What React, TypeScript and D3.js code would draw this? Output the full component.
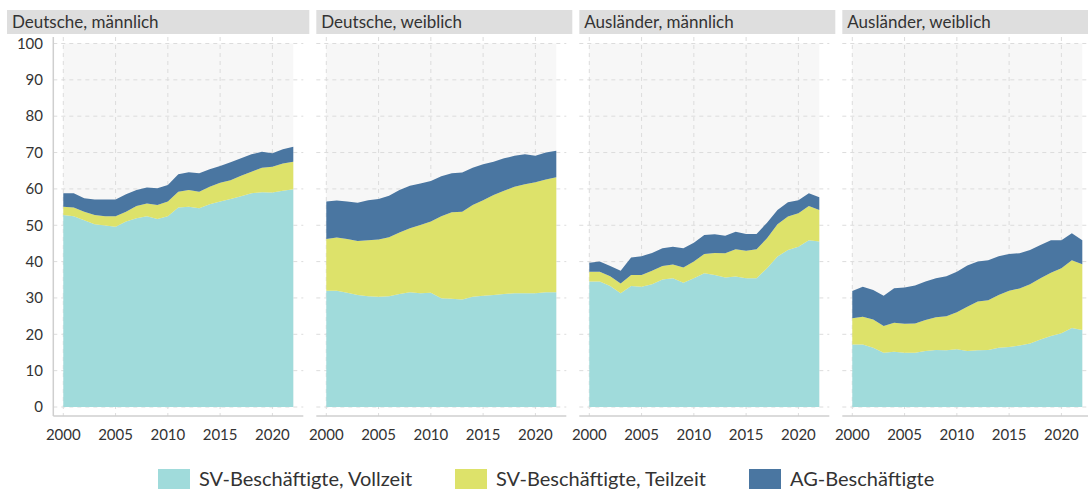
import React from "react";
import * as d3 from "d3";

const years = [2000, 2001, 2002, 2003, 2004, 2005, 2006, 2007, 2008, 2009, 2010, 2011, 2012, 2013, 2014, 2015, 2016, 2017, 2018, 2019, 2020, 2021, 2022];
const panelTitles = ["Deutsche, männlich", "Deutsche, weiblich", "Ausländer, männlich", "Ausländer, weiblich"];
const seriesNames = ["SV-Beschäftigte, Vollzeit", "SV-Beschäftigte, Teilzeit", "AG-Beschäftigte"];
const seriesColors = ["#a0dbdb", "#dde26a", "#4a76a1"];
const xTicks = [2000, 2005, 2010, 2015, 2020];
const yTicks = [0, 10, 20, 30, 40, 50, 60, 70, 80, 90, 100];

// Deutsche, männlich
const dmVollzeit = [52.8, 52.5, 51.4, 50.3, 49.9, 49.6, 51.0, 51.9, 52.5, 51.7, 52.5, 54.9, 55.1, 54.7, 55.8, 56.5, 57.2, 58.0, 58.8, 59.1, 59.0, 59.5, 59.9];
const dmTeilzeit = [2.3, 2.4, 2.3, 2.5, 2.6, 2.9, 2.7, 3.4, 3.5, 3.9, 4.0, 4.3, 4.6, 4.5, 4.8, 5.2, 5.2, 5.6, 5.9, 6.7, 7.1, 7.5, 7.6];
const dmAG = [3.7, 3.9, 3.7, 4.3, 4.6, 4.6, 4.8, 4.4, 4.4, 4.6, 4.6, 4.8, 4.9, 5.1, 4.8, 4.6, 4.9, 4.8, 4.8, 4.4, 3.7, 3.9, 4.1];

// Deutsche, weiblich
const dwVollzeit = [32.0, 32.0, 31.4, 30.8, 30.5, 30.3, 30.5, 31.1, 31.6, 31.3, 31.4, 29.9, 29.8, 29.6, 30.3, 30.6, 30.8, 31.1, 31.3, 31.3, 31.3, 31.6, 31.6];
const dwTeilzeit = [14.2, 14.6, 14.8, 14.9, 15.4, 15.8, 16.2, 16.9, 17.6, 18.8, 19.6, 22.6, 23.8, 24.1, 25.3, 26.3, 27.5, 28.4, 29.3, 30.0, 30.5, 31.0, 31.6];
const dwAG = [10.3, 10.2, 10.3, 10.5, 11.0, 11.1, 11.4, 11.7, 11.7, 11.4, 11.2, 11.0, 10.7, 10.8, 10.2, 9.9, 9.2, 8.9, 8.5, 8.2, 7.3, 7.4, 7.3];

// Ausländer, männlich
const amVollzeit = [34.5, 34.5, 33.3, 31.3, 33.3, 33.1, 33.8, 35.1, 35.4, 34.2, 35.4, 36.8, 36.3, 35.6, 35.9, 35.4, 35.4, 38.2, 41.4, 43.2, 44.1, 45.9, 45.5];
const amTeilzeit = [2.7, 2.7, 2.7, 2.7, 3.0, 3.2, 3.7, 3.7, 3.8, 4.2, 4.6, 5.3, 6.1, 6.7, 7.5, 7.6, 8.0, 8.2, 8.9, 9.2, 9.2, 9.4, 8.7];
const amAG = [2.5, 2.8, 2.8, 3.5, 4.8, 5.2, 4.9, 4.9, 4.9, 5.3, 5.2, 5.2, 5.1, 4.8, 4.8, 4.6, 4.2, 4.3, 3.9, 3.9, 3.6, 3.5, 3.5];

// Ausländer, weiblich
const awVollzeit = [17.2, 17.2, 16.3, 14.9, 15.2, 14.9, 14.9, 15.4, 15.7, 15.6, 15.9, 15.4, 15.6, 15.7, 16.3, 16.5, 16.9, 17.5, 18.6, 19.5, 20.3, 21.7, 21.2];
const awTeilzeit = [7.2, 7.6, 7.8, 7.4, 8.0, 8.0, 8.1, 8.5, 9.0, 9.4, 10.2, 12.2, 13.4, 13.7, 14.5, 15.5, 15.7, 16.3, 16.8, 17.4, 17.9, 18.7, 18.1];
const awAG = [7.5, 8.3, 8.1, 8.3, 9.5, 10.0, 10.4, 10.6, 10.7, 11.0, 11.1, 11.3, 11.0, 11.0, 10.7, 10.1, 9.7, 9.4, 9.2, 9.0, 7.7, 7.4, 6.6];

const panelSeries = [
  [dmVollzeit, dmTeilzeit, dmAG],
  [dwVollzeit, dwTeilzeit, dwAG],
  [amVollzeit, amTeilzeit, amAG],
  [awVollzeit, awTeilzeit, awAG],
];

const W = 1088;
const H = 490;
const FONT = "Lato, 'Noto Sans', sans-serif";
const panelStep = 263;
const dataX0 = 63.3;
const dataW = 230;
const yTop = 43.5;
const yBottom = 407;
const axisY = 416;
const plotTop = 37;

const y = d3.scaleLinear().domain([0, 100]).range([yBottom, yTop]);

function Panel({ idx }: { idx: number }) {
  const x0 = dataX0 + idx * panelStep;
  const x = d3.scaleLinear().domain([2000, 2022]).range([x0, x0 + dataW]);
  const rows = years.map((yr, i) => ({
    year: yr,
    s0: panelSeries[idx][0][i],
    s1: panelSeries[idx][1][i],
    s2: panelSeries[idx][2][i],
  }));
  const stacked = d3.stack<any>().keys(["s0", "s1", "s2"])(rows);
  const area = d3
    .area<any>()
    .x((d) => x(d.data.year))
    .y0((d) => y(d[0]))
    .y1((d) => y(d[1]));
  const left = x0 - 10;
  const right = x0 + 240;
  const stripLeft = idx === 0 ? 7 : left;
  const stripRight = x0 + 246;
  return (
    <g>
      <rect x={stripLeft} y={10} width={stripRight - stripLeft} height={24} fill="#dedede" />
      <text x={stripLeft + 5} y={27.5} fontSize={17} fill="#333" fontFamily={FONT}>
        {panelTitles[idx]}
      </text>
      <rect x={x0} y={y(100)} width={dataW} height={y(0) - y(100)} fill="#f7f7f7" />
      {yTicks.map((t) => (
        <line key={"h" + t} x1={left} x2={right} y1={y(t)} y2={y(t)} stroke="#dcdcdc" strokeDasharray="4,4" strokeWidth={1} />
      ))}
      {xTicks.map((t) => (
        <line key={"v" + t} x1={x(t)} x2={x(t)} y1={plotTop} y2={axisY} stroke="#dcdcdc" strokeDasharray="4,4" strokeWidth={1} />
      ))}
      {stacked.map((s, i) => (
        <path key={i} d={area(s) || ""} fill={seriesColors[i]} />
      ))}
      <line x1={left} x2={right} y1={axisY} y2={axisY} stroke="#cfcfcf" strokeWidth={1.5} />
      {idx === 0 && <line x1={left} x2={left} y1={plotTop} y2={axisY} stroke="#cfcfcf" strokeWidth={1.5} />}
      {xTicks.map((t) => (
        <text key={"xl" + t} x={x(t)} y={439.5} fontSize={15} fill="#333" textAnchor="middle" fontFamily={FONT}>
          {t}
        </text>
      ))}
      {idx === 0 &&
        yTicks.map((t) => (
          <text key={"yl" + t} x={43} y={y(t)} dy="0.35em" fontSize={15} fill="#333" textAnchor="end" fontFamily={FONT}>
            {t}
          </text>
        ))}
    </g>
  );
}

const legendX = [158, 455, 749];

export default function App() {
  return (
    <svg width={W} height={H} style={{ position: "absolute", left: 0, top: 0, background: "#fff" }}>
      {panelTitles.map((_, i) => (
        <Panel key={i} idx={i} />
      ))}
      {seriesNames.map((n, i) => (
        <g key={n}>
          <rect x={legendX[i]} y={469} width={32} height={20} fill={seriesColors[i]} />
          <text x={legendX[i] + 41} y={479} dy="0.35em" fontSize={20} fill="#333" fontFamily={FONT}>
            {n}
          </text>
        </g>
      ))}
    </svg>
  );
}
